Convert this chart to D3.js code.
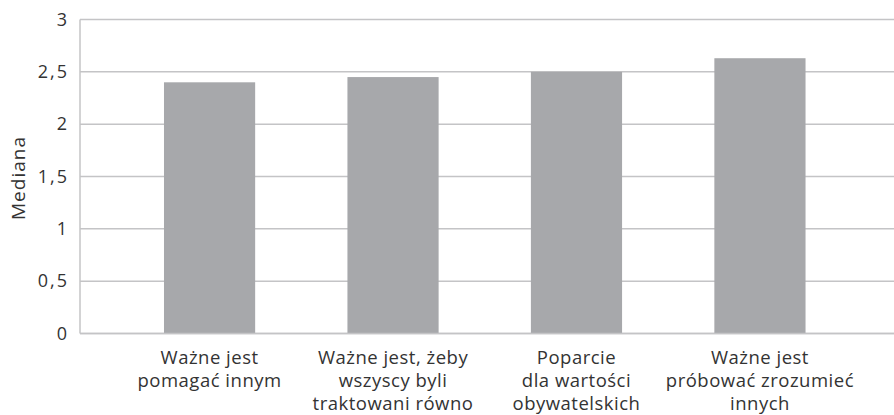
<!DOCTYPE html>
<html>
<head>
<meta charset="utf-8">
<script src="https://cdn.jsdelivr.net/npm/d3@7"></script>
<style>
body { margin:0; background:#fff; }
text { font-family:"Open Sans", "Noto Sans", sans-serif; fill:#333; }
</style>
</head>
<body>
<svg id="chart"></svg>
<script>
// category labels, split into lines as in the picture
var categories = [
    ["Ważne jest", "pomagać innym"],
    ["Ważne jest, żeby", "wszyscy byli", "traktowani równo"],
    ["Poparcie", "dla wartości", "obywatelskich"],
    ["Ważne jest", "próbować zrozumieć", "innych"]
];
var medians = [2.4, 2.45, 2.5, 2.63];
var yTicks = [0, 0.5, 1, 1.5, 2, 2.5, 3];
var yTitle = "Mediana";

var screen = {width:894, height:415};
var plot = {left:80, right:894, top:19.5, bottom:333.5};

var svg = d3.select("#chart")
    .attr("width", screen.width)
    .attr("height", screen.height);

var xScale = d3.scaleBand()
    .domain(d3.range(categories.length))
    .range([plot.left, plot.right])
    .paddingInner(0.503)
    .paddingOuter(0.47)
    .align(0.487);

var yScale = d3.scaleLinear()
    .domain([0, 3])
    .range([plot.bottom, plot.top]);

//gridlines
svg.append("g")
    .selectAll("line")
    .data(yTicks)
    .enter()
    .append("line")
    .attr("x1", plot.left)
    .attr("x2", plot.right)
    .attr("y1", function(d){ return yScale(d); })
    .attr("y2", function(d){ return yScale(d); })
    .attr("stroke", "#c4c4c6")
    .attr("stroke-width", 1.5);

// y axis line
svg.append("line")
    .attr("x1", plot.left).attr("x2", plot.left)
    .attr("y1", plot.top).attr("y2", plot.bottom)
    .attr("stroke", "#c4c4c6")
    .attr("stroke-width", 1.5);

// bars
svg.append("g")
    .selectAll("rect")
    .data(medians)
    .enter()
    .append("rect")
    .attr("x", function(d, i){ return xScale(i); })
    .attr("width", xScale.bandwidth())
    .attr("y", function(d){ return yScale(d); })
    .attr("height", function(d){ return yScale(0) - yScale(d); })
    .attr("fill", "#a7a8ab");

// redraw baseline on top of the bars
svg.append("line")
    .attr("x1", plot.left).attr("x2", plot.right)
    .attr("y1", yScale(0)).attr("y2", yScale(0))
    .attr("stroke", "#c4c4c6")
    .attr("stroke-width", 1.5);

// y tick labels
var yAxis = d3.axisLeft(yScale)
    .tickValues(yTicks)
    .tickSize(0)
    .tickPadding(11)
    .tickFormat(function(d){ return String(d).replace(".", ","); });
var yg = svg.append("g")
    .attr("transform", "translate(" + plot.left + ",0)")
    .call(yAxis);
yg.select(".domain").remove();
yg.selectAll("text")
    .style("font-family", "'Open Sans', 'Noto Sans', sans-serif")
    .style("font-size", "18px")
    .style("letter-spacing", "2px")
    .attr("fill", "#333");

// category labels
var labels = svg.append("g")
    .selectAll("text")
    .data(categories)
    .enter()
    .append("text")
    .attr("text-anchor", "middle")
    .attr("font-size", "18.5px")
    .style("letter-spacing", "0.5px")
    .attr("x", function(d, i){ return xScale(i) + xScale.bandwidth() / 2; });
labels.selectAll("tspan")
    .data(function(d){ return d; })
    .enter()
    .append("tspan")
    .attr("x", function(){ return d3.select(this.parentNode).attr("x"); })
    .attr("y", function(d, j){ return 364 + j * 23; })
    .text(function(d){ return d; });

// y title
svg.append("text")
    .attr("transform", "translate(25,178) rotate(-90)")
    .attr("text-anchor", "middle")
    .attr("font-size", "19px")
    .style("letter-spacing", "1px")
    .text(yTitle);
</script>
</body>
</html>
